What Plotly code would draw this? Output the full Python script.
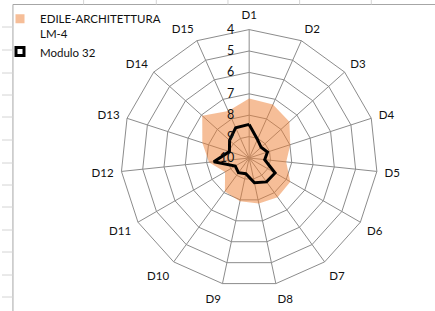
import plotly.graph_objects as go

categories = ["D1", "D2", "D3", "D4", "D5", "D6", "D7", "D8", "D9", "D10",
              "D11", "D12", "D13", "D14", "D15"]
edile_values = [7.22, 7.27, 7.47, 7.98, 8.26, 7.78, 7.74, 7.83, 7.93, 8.07,
                8.70, 8.11, 7.70, 7.05, 7.60]
modulo_values = [8.43, 9.05, 9.25, 9.10, 9.27, 8.60, 8.62, 8.82, 9.25, 9.15,
                 9.25, 8.34, 9.03, 8.77, 8.45]
radial_ticks = [4, 5, 6, 7, 8, 9, 10]
series_names = ["EDILE-ARCHITETTURA<br>LM-4", "Modulo 32"]

FONT = "Lato"
TXT = "#111111"
GRID = "#8c8c8c"
ORANGE_FILL = "rgba(237,125,49,0.5)"

theta_closed = categories + categories[:1]

fig = go.Figure()
fig.add_trace(go.Scatterpolar(
    r=edile_values + edile_values[:1], theta=theta_closed,
    mode="lines", fill="toself", fillcolor=ORANGE_FILL,
    line=dict(width=0, color=ORANGE_FILL), showlegend=False, hoverinfo="skip"))
fig.add_trace(go.Scatterpolar(
    r=modulo_values + modulo_values[:1], theta=theta_closed,
    mode="lines", line=dict(width=3, color="black"),
    showlegend=False))
# legend entries
fig.add_trace(go.Scatterpolar(
    r=[None], theta=[None], mode="markers", name=series_names[0],
    marker=dict(symbol="square", size=9, color=ORANGE_FILL)))
fig.add_trace(go.Scatterpolar(
    r=[None], theta=[None], mode="markers", name=series_names[1],
    marker=dict(symbol="square-open", size=8, color="black",
                line=dict(width=3, color="black"))))

shapes = []
# spreadsheet cell borders around the chart object
shapes.append(dict(type="line", xref="paper", yref="paper",
                   x0=11 / 435, x1=1, y0=1 - 4.5 / 311, y1=1 - 4.5 / 311,
                   line=dict(color="#a6a6a6", width=1)))
shapes.append(dict(type="line", xref="paper", yref="paper",
                   x0=11 / 435, x1=11 / 435, y0=0, y1=1 - 4.5 / 311,
                   line=dict(color="#a6a6a6", width=1)))
for yy in [27, 50, 73, 95, 117, 140, 163, 185, 207, 230, 252, 275, 297]:
    shapes.append(dict(type="line", xref="paper", yref="paper",
                       x0=0, x1=11 / 435, y0=1 - yy / 311, y1=1 - yy / 311,
                       line=dict(color="#d4d4d4", width=1)))
for xx in [82, 155, 227, 299, 371]:
    shapes.append(dict(type="line", xref="paper", yref="paper",
                       x0=xx / 435, x1=xx / 435, y0=1 - 4.5 / 311, y1=1,
                       line=dict(color="#d4d4d4", width=1)))

cx, cy, R = 248.3, 158.0, 129.0
W, H = 435, 311
fig.update_layout(
    width=W, height=H,
    margin=dict(l=0, r=0, t=0, b=0),
    paper_bgcolor="white",
    font=dict(family=FONT, size=11.5, color=TXT),
    shapes=shapes,
    polar=dict(
        domain=dict(x=[(cx - R) / W, (cx + R) / W],
                    y=[(H - cy - R) / H, (H - cy + R) / H]),
        gridshape="linear",
        bgcolor="rgba(0,0,0,0)",
        radialaxis=dict(range=[10, 4], tickvals=radial_ticks, angle=90,
                        side="counterclockwise", showline=False,
                        ticks="outside", ticklen=10,
                        tickcolor="rgba(0,0,0,0)",
                        tickangle=90,
                        gridcolor=GRID, gridwidth=1,
                        tickfont=dict(family=FONT, size=12.5, color=TXT)),
        angularaxis=dict(direction="clockwise", rotation=90,
                         showline=True, linecolor=GRID, linewidth=1,
                         gridcolor=GRID, gridwidth=1,
                         ticks="outside", ticklen=5,
                         tickcolor="rgba(0,0,0,0)",
                         tickfont=dict(family=FONT, size=11.5, color=TXT)),
    ),
    legend=dict(x=-0.005, y=0.985, xanchor="left", yanchor="top",
                bgcolor="rgba(0,0,0,0)", valign="top",
                font=dict(family=FONT, size=11.5, color=TXT),
                itemwidth=30, tracegroupgap=0),
)

fig.write_html("out.html",
               config={"displayModeBar": False},
               post_script="document.body.style.margin='0';"
                           "document.body.style.padding='0';")
